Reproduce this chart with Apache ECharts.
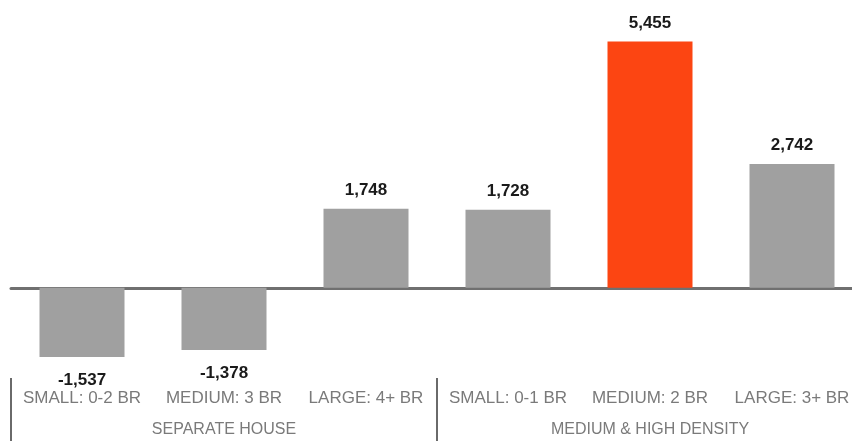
<!DOCTYPE html>
<html>
<head>
<meta charset="utf-8">
<script src="https://cdn.jsdelivr.net/npm/echarts@6/dist/echarts.min.js"></script>
<style>
  html, body { margin: 0; padding: 0; background: #fff; }
  #main { width: 852px; height: 441px; }
</style>
</head>
<body>
<div id="main"></div>
<script>
var categories = ['SMALL: 0-2 BR', 'MEDIUM: 3 BR', 'LARGE: 4+ BR', 'SMALL: 0-1 BR', 'MEDIUM: 2 BR', 'LARGE: 3+ BR'];
var values = [-1537, -1378, 1748, 1728, 5455, 2742];
var groups = ['SEPARATE HOUSE', 'MEDIUM & HIGH DENSITY'];

var chart = echarts.init(document.getElementById('main'));
var maxVal = Math.max.apply(null, values);

var labelFont = 'Arial, "Liberation Sans", sans-serif';

var option = {
    animation: false,
    grid: { left: 11, right: -11, top: 17, height: 361, outerBoundsMode: 'none' },
    xAxis: [
        {
            type: 'category',
            data: categories,
            axisLine: { onZero: true, lineStyle: { color: '#707070', width: 3 } },
            axisTick: { show: false },
            axisLabel: { show: false }
        },
        {
            type: 'category',
            data: categories,
            position: 'bottom',
            axisLine: { show: false },
            axisTick: { show: false },
            axisLabel: { interval: 0, margin: 12, color: '#7a7a7a', fontSize: 17, fontFamily: labelFont }
        },
        {
            type: 'category',
            data: groups,
            position: 'bottom',
            axisLine: { show: false },
            axisTick: { show: true, inside: false, length: 63, lineStyle: { color: '#6a6a6a', width: 2 } },
            axisLabel: { interval: 0, margin: 44, color: '#7a7a7a', fontSize: 16, fontFamily: labelFont }
        }
    ],
    yAxis: {
        type: 'value',
        min: -2000,
        max: 6000,
        show: false,
        splitLine: { show: false }
    },
    series: [{
        type: 'bar',
        barWidth: 85,
        data: values.map(function (v) {
            return {
                value: v,
                label: v < 0 ? { position: 'bottom', distance: 15 } : { position: 'top', distance: 10 }
            };
        }),
        itemStyle: {
            color: function (p) { return p.value === maxVal ? '#fc4512' : '#a0a0a0'; }
        },
        label: {
            show: true,
            color: '#1a1a1a',
            fontWeight: 'bold',
            fontSize: 17,
            fontFamily: labelFont,
            formatter: function (p) { return p.value.toLocaleString('en-US'); }
        }
    }]
};

chart.setOption(option);
</script>
</body>
</html>
